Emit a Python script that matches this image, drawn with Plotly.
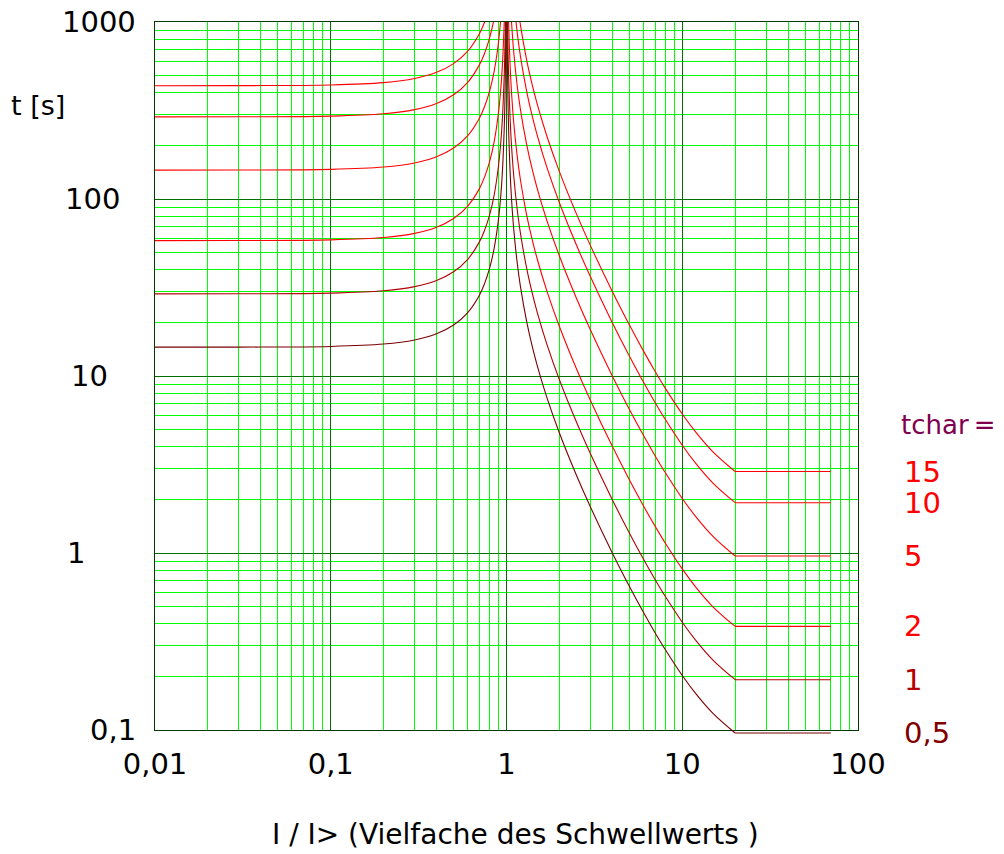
import numpy as np
import plotly.graph_objects as go

# tchar settings
tchar_labels = ["15", "10", "5", "2", "1", "0,5"]
label_colors = ["#ff0000", "#ff0000", "#ff0000", "#ff0000", "#b40000", "#800000"]
curve_colors = ["#ff0000", "#ff0000", "#ff0000", "#ff0000", "#b00000", "#7a0000"]

# below the threshold (I/I> < 1): reset branch
x_reset = [0.01, 0.03, 0.1, 0.2, 0.3, 0.4, 0.5, 0.6, 0.7, 0.75, 0.8, 0.85, 0.9, 0.93, 0.95, 0.97, 0.98, 0.99, 0.995]
t_reset_15 = [436.5, 437.0, 440.9, 454.7, 479.7, 519.6, 582.0, 682.1, 855.9, 997.7, 1212, 1574, 2298, 3231, 4478, 7386, 11022, 21930, 43755]
t_reset_10 = [291.0, 291.3, 293.9, 303.1, 319.8, 346.4, 388.0, 454.7, 570.6, 665.1, 808.3, 1049, 1532, 2154, 2985, 4924, 7348, 14620, 29170]
t_reset_5 = [145.5, 145.7, 147.0, 151.6, 159.9, 173.2, 194.0, 227.4, 285.3, 332.6, 404.2, 524.5, 766, 1077, 1493, 2462, 3674, 7310, 14585]
t_reset_2 = [58.20, 58.26, 58.78, 60.62, 63.96, 69.28, 77.60, 90.94, 114.1, 133.0, 161.7, 209.8, 306.4, 430.8, 597.0, 984.8, 1470, 2924, 5834]
t_reset_1 = [29.10, 29.13, 29.39, 30.31, 31.98, 34.64, 38.80, 45.47, 57.06, 66.51, 80.83, 104.9, 153.2, 215.4, 298.5, 492.4, 734.8, 1462, 2917]
t_reset_05 = [14.55, 14.56, 14.69, 15.15, 15.99, 17.32, 19.40, 22.74, 28.53, 33.26, 40.42, 52.45, 76.6, 107.7, 149.3, 246.2, 367.4, 731, 1459]

# above the threshold: tripping branch up to I/I> = 20
x_trip = [1.005, 1.01, 1.02, 1.03, 1.05, 1.07, 1.1, 1.15, 1.2, 1.3, 1.4, 1.5, 1.7, 2, 2.5, 3, 4, 5, 6, 7, 8, 10, 12, 15, 20]
t_trip_15 = [42195, 21045, 10472, 6948, 4128, 2921, 2016, 1313, 963.2, 614.9, 442.5, 340.2, 225.6, 142.8, 82.4, 54.71, 30.03, 19.46, 13.91, 10.64, 8.54, 6.098, 4.784, 3.714, 2.886]
t_trip_10 = [28130, 14030, 6981, 4632, 2752, 1947, 1344, 875.6, 642.1, 409.9, 295.0, 226.8, 150.4, 95.22, 54.93, 36.47, 20.02, 12.97, 9.274, 7.092, 5.693, 4.065, 3.189, 2.476, 1.924]
t_trip_5 = [14065, 7015, 3491, 2316, 1376, 973.5, 672, 437.8, 321.1, 205.0, 147.5, 113.4, 75.2, 47.61, 27.47, 18.24, 10.01, 6.485, 4.637, 3.546, 2.847, 2.033, 1.595, 1.238, 0.962]
t_trip_2 = [5626, 2806, 1396, 926.4, 550.4, 389.4, 268.8, 175.1, 128.4, 81.98, 59.0, 45.36, 30.08, 19.04, 10.99, 7.294, 4.004, 2.594, 1.855, 1.418, 1.139, 0.813, 0.6378, 0.4952, 0.3848]
t_trip_1 = [2813, 1403, 698.1, 463.2, 275.2, 194.7, 134.4, 87.56, 64.21, 40.99, 29.50, 22.68, 15.04, 9.522, 5.493, 3.647, 2.002, 1.297, 0.9274, 0.7092, 0.5693, 0.4065, 0.3189, 0.2476, 0.1924]
t_trip_05 = [1407, 701.5, 349.1, 231.6, 137.6, 97.35, 67.2, 43.78, 32.11, 20.50, 14.75, 11.34, 7.52, 4.761, 2.747, 1.824, 1.001, 0.6485, 0.4637, 0.3546, 0.2847, 0.2033, 0.1595, 0.1238, 0.0962]

# constant time from I/I> = 20 on
x_flat = [20, 70]
t_flat = [2.886, 1.924, 0.962, 0.3848, 0.1924, 0.0962]

y_tickvals = [0.1, 1, 10, 100, 1000]
y_ticktext = ["0,1", "1", "10", "100", "1000"]

resets = [t_reset_15, t_reset_10, t_reset_5, t_reset_2, t_reset_1, t_reset_05]
trips = [t_trip_15, t_trip_10, t_trip_5, t_trip_2, t_trip_1, t_trip_05]

FONT = "DejaVu Sans"
MAJOR = "#007000"
MINOR = "#00ff00"

fig = go.Figure()

# empty trace so the grid subplot (x, y) gets drawn
fig.add_trace(go.Scatter(x=[], y=[], mode="lines", xaxis="x", yaxis="y", hoverinfo="skip"))

# curves live on x2/y2: same scale as the grid axes, but y2 reaches a few px lower
for reset, trip, flat, color in zip(resets, trips, t_flat, curve_colors):
    line = dict(color=color, width=1.1, shape="spline", smoothing=1)
    fig.add_trace(go.Scatter(x=x_reset, y=reset, mode="lines", line=line, xaxis="x2", yaxis="y2", hoverinfo="skip"))
    fig.add_trace(go.Scatter(x=x_trip, y=trip, mode="lines", line=line, xaxis="x2", yaxis="y2", hoverinfo="skip"))
    fig.add_trace(
        go.Scatter(x=x_flat, y=[flat, flat], mode="lines", line=dict(color=color, width=1.1),
                   xaxis="x2", yaxis="y2", hoverinfo="skip")
    )

# paper coords span the y2 domain: 718 px high, bottom 10 px below the frame
annotations = []
# y tick labels (placed by hand in the original)
y_label_right = [138, 87, 110, 122, 138]
for val, txt, px in zip(y_tickvals, y_ticktext, y_label_right):
    annotations.append(dict(x=(px - 155) / 703, xref="paper", y=np.log10(val), yref="y2", text=txt,
                            showarrow=False, xanchor="right", yanchor="middle",
                            font=dict(family=FONT, size=29, color="black")))

for txt, val, col in zip(tchar_labels, t_flat, label_colors):
    annotations.append(dict(x=1.062, xref="paper", y=np.log10(val), yref="y2", text=txt, showarrow=False,
                            xanchor="left", yanchor="middle", font=dict(family=FONT, size=29, color=col)))

annotations.append(dict(x=1.058, xref="paper", y=np.log10(5.3), yref="y2", text="tchar\u2009=", showarrow=False,
                        xanchor="left", yanchor="middle", font=dict(family=FONT, size=26, color="#800050")))
annotations.append(dict(x=-0.207, xref="paper", y=0.884, yref="paper", text="t [s]", showarrow=False,
                        xanchor="left", yanchor="middle", font=dict(family=FONT, size=27, color="black")))
annotations.append(dict(x=0.5135, xref="paper", y=-0.132, yref="paper", text="I / I> (Vielfache des Schwellwerts )",
                        showarrow=False, xanchor="center", yanchor="middle",
                        font=dict(family=FONT, size=28, color="black")))

grid_axis = dict(
    type="log",
    tickmode="linear",
    dtick=1,
    ticks="",
    showgrid=True,
    gridcolor=MAJOR,
    gridwidth=1,
    minor=dict(dtick="D1", showgrid=True, gridcolor=MINOR, gridwidth=1, ticks=""),
    showline=True,
    linecolor="#003800",
    linewidth=1,
    mirror=True,
    zeroline=False,
)

hidden_axis = dict(
    type="log",
    domain=[0, 1],
    visible=False,
    showgrid=False,
    gridcolor="rgba(0,0,0,0)",
    showline=False,
    showticklabels=False,
    ticks="",
    zeroline=False,
    minor=dict(showgrid=False, gridcolor="rgba(0,0,0,0)", ticks=""),
)

# the page body has an 8 px margin, so the figure is 8 px smaller than the window
fig.update_layout(
    template="none",
    width=996,
    height=846,
    margin=dict(l=147, r=146, t=14, b=114, pad=0),
    paper_bgcolor="white",
    plot_bgcolor="rgba(0,0,0,0)",
    showlegend=False,
    separators=",.",
    font=dict(family=FONT, size=29, color="black"),
    annotations=annotations,
    xaxis=dict(
        grid_axis,
        range=[-2, 2],
        anchor="y",
        ticklabelstandoff=8,
        tickfont=dict(family=FONT, size=29, color="black"),
    ),
    yaxis=dict(
        grid_axis,
        range=[-1, 3],
        domain=[10 / 718, 1],
        anchor="x",
        showticklabels=False,
    ),
    xaxis2=dict(hidden_axis, range=[-2, 2], anchor="y2"),
    yaxis2=dict(hidden_axis, range=[3 - 718 / 177, 3], anchor="x2"),
)

fig.write_html("out.html")
